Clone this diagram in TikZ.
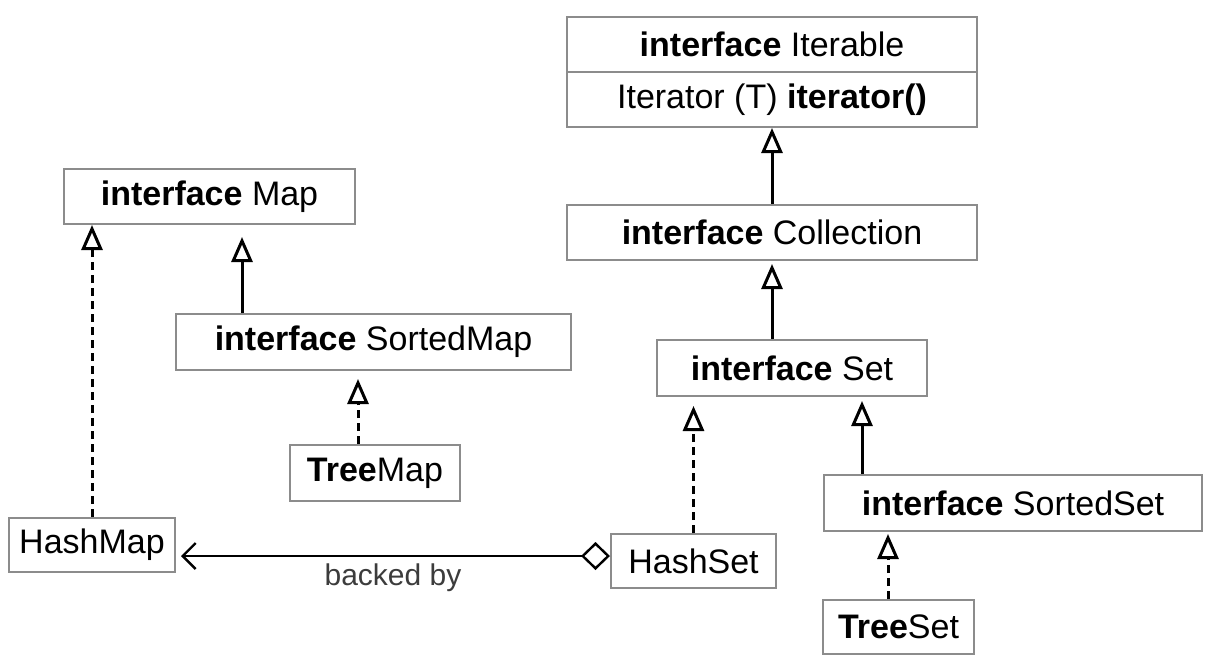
\documentclass[tikz,border=0pt]{standalone}
\usepackage{fontspec}
\setmainfont{Liberation Sans}
\usetikzlibrary{arrows.meta}
\definecolor{boxgray}{RGB}{140,140,140}
\definecolor{labelgray}{RGB}{60,60,60}
\begin{document}
\begin{tikzpicture}[x=1pt,y=-1pt]
		\tikzset{box/.style = {draw=boxgray,line width=2pt,minimum height=55pt,inner sep=0pt,font=\fontsize{34}{37}\selectfont}}
		\tikzset{gen/.style = {-{Triangle[open,length=25pt,width=21pt]},line width=3pt}}
		\tikzset{impl/.style = {gen,dash pattern=on 8pt off 5pt}}
		\useasboundingbox (0,0) rectangle (1210,656);
		\node[box,minimum width=410pt] (iterable) at (772,44) {\textbf{interface} Iterable};
		\node[box,minimum width=410pt] (iterator) at (772,99.5) {Iterator (T) \textbf{iterator()}};
		\node[box,minimum width=410pt] (collection) at (772,232.5) {\textbf{interface} Collection};
		\node[box,minimum width=270pt,minimum height=56pt] (set) at (792,368) {\textbf{interface} Set};
		\node[box,minimum width=378pt,minimum height=56pt] (sortedset) at (1013,503) {\textbf{interface} SortedSet};
		\node[box,minimum width=151pt,minimum height=54pt] (treeset) at (898.5,627) {\textbf{Tree}Set};
		\node[box,minimum width=165pt,minimum height=54pt] (hashset) at (693.5,561) {HashSet};
		\node[box,minimum width=291pt] (map) at (209.5,196.5) {\textbf{interface} Map};
		\node[box,minimum width=395pt,minimum height=56pt] (sortedmap) at (373.5,342) {\textbf{interface} SortedMap};
		\node[box,minimum width=170pt,minimum height=56pt] (treemap) at (375,473) {\textbf{Tree}Map};
		\node[box,minimum width=166pt,minimum height=54pt] (hashmap) at (92,545) {HashMap};
		\coordinate (ss) at ([xshift=39pt]sortedset.north west);
		\coordinate (ts) at ([xshift=66pt]treeset.north west);
		\coordinate (sm) at ([xshift=67pt]sortedmap.north west);
		\coordinate (tm) at ([xshift=69pt]treemap.north west);
		\coordinate (bk) at ([yshift=5pt]hashset.west);
		\draw[gen] (collection.north) -- (iterator.south);
		\draw[gen,shorten >=3pt] (set.north -| collection.north) -- (collection.south);
		\draw[impl,shorten >=9pt] (hashset.north) -- (hashset.north |- set.south);
		\draw[gen,shorten >=4pt] (ss) -- (ss |- set.south);
		\draw[impl,shorten >=2pt] (ts) -- (ts |- sortedset.south);
		\draw[gen,shorten >=12pt] (sm) -- (sm |- map.south);
		\draw[impl,shorten >=8pt] (tm) -- (tm |- sortedmap.south);
		\draw[impl] (hashmap.north) -- (hashmap.north |- map.south);
		\draw[{Diamond[open,length=29pt,width=28pt]}-{Straight Barb[length=13pt,width=26pt]},line width=2.4pt,shorten >=5pt] (bk) -- (bk -| hashmap.east) node[midway,yshift=-22pt,text=labelgray,font=\fontsize{30}{33}\selectfont] {backed by};
	\end{tikzpicture}
\end{document}
